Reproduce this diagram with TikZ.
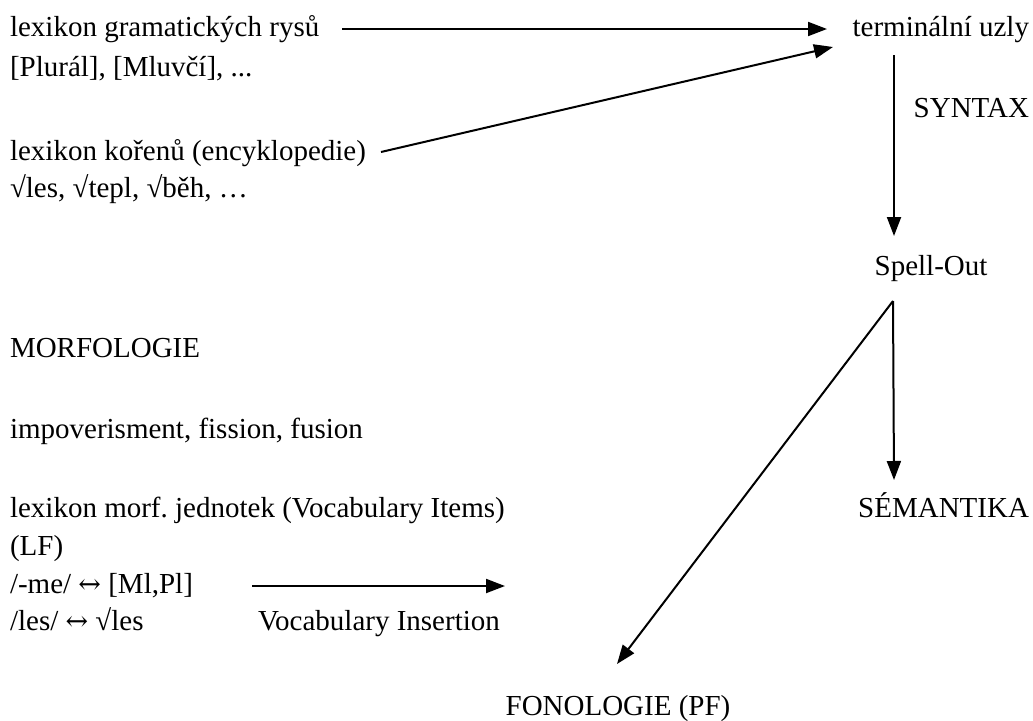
\documentclass[tikz,border=0pt]{standalone}
\usepackage{fontspec}
\setmainfont{Liberation Serif}
\newfontfamily\arrfont{DejaVu Serif}
\newcommand{\lrarr}{{\arrfont\fontsize{27}{30}\selectfont ↔}}
\usetikzlibrary{arrows.meta,calc}
\frenchspacing
\begin{document}
\begin{tikzpicture}[x=1pt,y=-1pt,
  txt/.style={anchor=base west,inner sep=0pt,outer sep=0pt,font=\fontsize{29}{35}\selectfont},
  arr/.style={line width=2pt,-{Triangle[length=19pt,width=14pt]}}]
\useasboundingbox (0,0) rectangle (1033,720);
\node[txt] (gram) at (10,36) {lexikon gramatických rysů};
\node[txt] (plural) at (10,76) {[Plurál], [Mluvčí], ...};
\node[txt] (koren) at (10,160) {lexikon kořenů (encyklopedie)};
\node[txt] (roots) at (10,197) {√les, √tepl, √běh, …};
\node[txt,anchor=base east] (term) at (1029,36) {terminální uzly};
\node[txt,anchor=base east] (syntax) at (1029,117) {SYNTAX};
\node[txt,anchor=base] (spell) at (931,275) {Spell-Out};
\node[txt] (morf) at (10,357) {MORFOLOGIE};
\node[txt] (impov) at (10,438) {impoverisment, fission, fusion};
\node[txt] (lexmorf) at (10,517) {lexikon morf. jednotek (Vocabulary Items)};
\node[txt] (lf) at (10,555) {(LF)};
\node[txt] (me) at (10,593) {/-me/ \lrarr{} [Ml,Pl]};
\node[txt] (lesvi) at (10,630) {/les/ \lrarr{} √les};
\node[txt] (vi) at (258,630) {Vocabulary Insertion};
\node[txt,anchor=base east] (sem) at (1029,517) {SÉMANTIKA};
\node[txt,anchor=base] (fon) at (618,715) {FONOLOGIE (PF)};
% connectors
\draw[arr] ([shift={(332,-7)}]gram.base west) -- ([shift={(-202,-7)}]term.base east);
\draw[arr] ([shift={(371,-8)}]koren.base west) -- ([shift={(-196,11)}]term.base east);
\draw[arr] ([shift={(-135,19)}]term.base east) -- ([shift={(-37,-39)}]spell.base);
\coordinate (so) at ([shift={(-38,26)}]spell.base);
\draw[arr] (so) -- ([shift={(-135,-37)}]sem.base east);
\draw[arr] (so) -- ([shift={(-1,-51)}]fon.base);
\draw[arr] ([shift={(-6,-44)}]vi.base west) -- ([shift={(247,-44)}]vi.base west);
\end{tikzpicture}
\end{document}
